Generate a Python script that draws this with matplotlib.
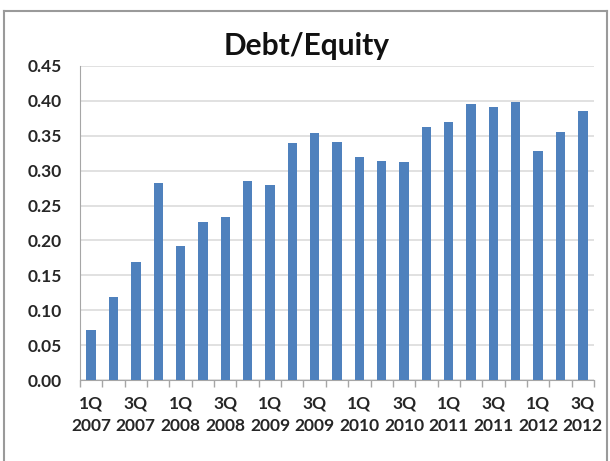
import numpy as np
import matplotlib.pyplot as plt
from matplotlib.lines import Line2D

# Quarterly debt/equity ratio, 1Q 2007 .. 3Q 2012
quarters = ["1Q", "2Q", "3Q", "4Q"]
years = [2007, 2008, 2009, 2010, 2011, 2012]
debt_equity = [0.071, 0.119, 0.169, 0.283,
               0.192, 0.226, 0.234, 0.285,
               0.280, 0.339, 0.354, 0.341,
               0.320, 0.314, 0.312, 0.362,
               0.370, 0.395, 0.391, 0.399,
               0.328, 0.356, 0.385]

labels = [f"{q}\n{y}" for y in years for q in quarters][:len(debt_equity)]
yticks = np.arange(0, 0.451, 0.05)

BAR = "#4F81BD"
GRID = "#d9d9d9"
AXIS = "#a6a6a6"
TEXT = "#262626"

plt.rcParams["font.family"] = ["Lato", "DejaVu Sans"]

fig = plt.figure(figsize=(6.10, 4.61), dpi=100)
ax = fig.add_axes([80 / 610, 1 - 380 / 461, 514 / 610, 314 / 461])

x = np.arange(len(debt_equity))
ax.bar(x, debt_equity, width=0.42, color=BAR, zorder=3)

ax.set_xlim(-0.5, len(debt_equity) - 0.5)
ax.set_ylim(0, 0.45)
ax.set_yticks(yticks)
ax.set_yticklabels([f"{v:.2f}" for v in yticks], fontsize=12.5,
                   fontweight="bold", color=TEXT)
ax.yaxis.grid(True, color=GRID, lw=1.1, zorder=0)
ax.tick_params(axis="y", length=0, pad=13)

# labels on every other quarter, tick marks at category boundaries
ax.set_xticks(x[::2])
ax.set_xticklabels(labels[::2], fontsize=12.5, fontweight="bold",
                   color=TEXT, linespacing=1.5)
ax.tick_params(axis="x", length=0, pad=11)
ax.set_xticks(np.arange(-0.5, len(debt_equity)), minor=True)
ax.tick_params(axis="x", which="minor", length=5, color=AXIS, width=1)

for side in ("top", "right"):
    ax.spines[side].set_visible(False)
ax.spines["left"].set_color(AXIS)
ax.spines["bottom"].set_color(AXIS)

fig.text(307 / 610, 1 - 46 / 461, "Debt/Equity", ha="center", va="center",
         fontsize=21.5, fontweight="bold", color="#111111")

# chart-area frame
for xs, ys in [([4 / 610, 4 / 610], [0, 1 - 11 / 461]),
               ([4 / 610, 607 / 610], [1 - 11 / 461, 1 - 11 / 461]),
               ([607 / 610, 607 / 610], [0, 1 - 11 / 461])]:
    fig.add_artist(Line2D(xs, ys, color="#9a9a9a", lw=1.5,
                          transform=fig.transFigure))

fig.savefig("out.png", dpi=100)
